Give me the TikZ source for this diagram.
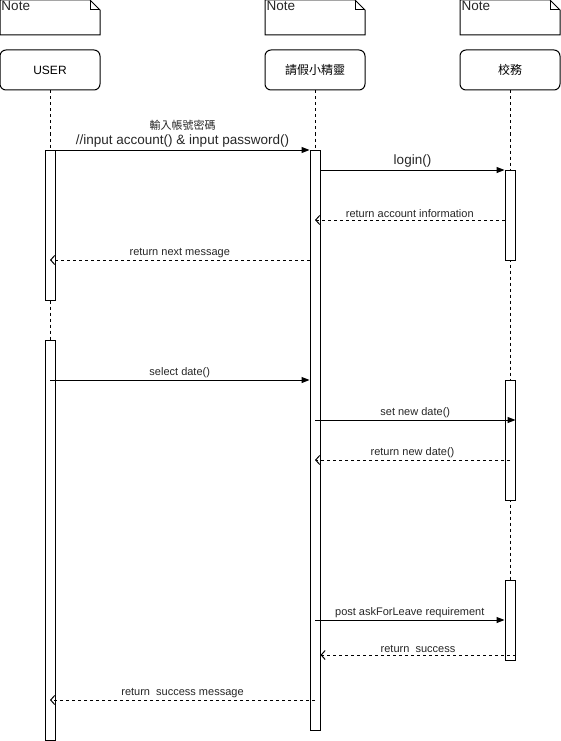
\documentclass[tikz,border=0pt]{standalone}
\usepackage{fontspec}
\setmainfont{Liberation Sans}
\newfontfamily\cjk{Noto Sans CJK TC}
\usetikzlibrary{calc, arrows.meta}
\tikzset{>=latex,
  head/.style={draw, rounded corners=6pt, minimum width=100pt, minimum height=40pt, font=\fontsize{12}{14}\selectfont},
  act/.style={draw, fill=white, minimum width=10pt, inner sep=0pt, anchor=north},
  life/.style={dash pattern=on 3pt off 3pt},
  msg/.style={-{Triangle[length=8pt,width=6pt]}},
  ret/.style={dash pattern=on 3pt off 3pt, -{Straight Barb[length=4pt,width=9pt]}},
  lbl/.style={above, inner sep=2pt, text=black!85, font=\fontsize{11}{13}\selectfont}
}

\begin{document}
\begin{tikzpicture}[x=1pt, y=-1pt, line width=1pt]
\useasboundingbox (0,0) rectangle (561,741);
\foreach \nx/\nn in {0/note1, 265/note2, 460/note3}{
  \draw (\nx,0) -- ++(90,0) -- ++(10,10) -- ++(0,25) -- ++(-100,0) -- cycle;
  \draw (\nx+90,0) -- ++(0,10) -- ++(10,0);
  \node[anchor=north west, inner sep=1pt, text=black!85, font=\fontsize{13.5}{15}\selectfont] (\nn) at (\nx,0) {Note};
}
\node[head] (user) at (50,70) {USER};
\node[head] (elf) at (315,70) {\cjk 請假小精靈};
\node[head] (school) at (510,70) {\cjk 校務};

\draw[life] (user.south) -- (50,340);
\draw[life] (elf.south) -- (315,150);
\draw[life] (school.south) -- (510,580);

\node[act, minimum height=150pt] (ua1) at (50,150) {};
\node[act, minimum height=400pt] (ua2) at (50,340) {};
\node[act, minimum height=580pt] (ma1) at (315,150) {};
\node[act, minimum height=90pt] (ra1) at (510,170) {};
\node[act, minimum height=120pt] (ra2) at (510,380) {};
\node[act, minimum height=80pt] (ra3) at (510,580) {};

\draw[msg] (ua1.north east) -- (ma1.north west)
  node[midway, above, inner sep=2pt, align=center, text=black!85, font=\fontsize{13.5}{15}\selectfont]
  {{\cjk\fontsize{11}{15}\selectfont 輸入帳號密碼}\\//input account() \& input password()};
\draw[msg] (ma1.east |- ra1.north) -- (ra1.north west)
  node[midway, above, inner sep=2pt, text=black!85, font=\fontsize{13.5}{15}\selectfont] {login()};
\draw[ret] ($(ra1.north west)+(0,50)$) -- ($(ma1.north)+(0,70)$)
  node[midway, lbl] {return account information};
\draw[ret] ($(ma1.north west)+(0,110)$) -- ($(ua1.north)+(0,110)$)
  node[midway, lbl] {return next message};
\draw[msg] ($(ua2.north)+(0,40)$) -- ($(ma1.north west)+(0,230)$)
  node[midway, lbl] {select date()};
\draw[msg] ($(ma1.north)+(0,270)$) -- ($(ra2.north east)+(0,40)$)
  node[midway, lbl] {set new date()};
\draw[ret] ($(ra2.north)+(0,80)$) -- ($(ma1.north)+(0,310)$)
  node[midway, lbl] {return new date()};
\draw[msg] ($(ma1.north)+(0,470)$) -- ($(ra3.north west)+(0,40)$)
  node[midway, lbl] {post askForLeave requirement};
\draw[ret] ($(ra3.north east)+(0,75)$) -- ($(ma1.north east)+(0,505)$)
  node[midway, lbl] {return~~success};
\draw[ret] ($(ma1.north)+(0,550)$) -- ($(ua2.north)+(0,360)$)
  node[midway, lbl] {return~~success message};
\end{tikzpicture}
\end{document}
